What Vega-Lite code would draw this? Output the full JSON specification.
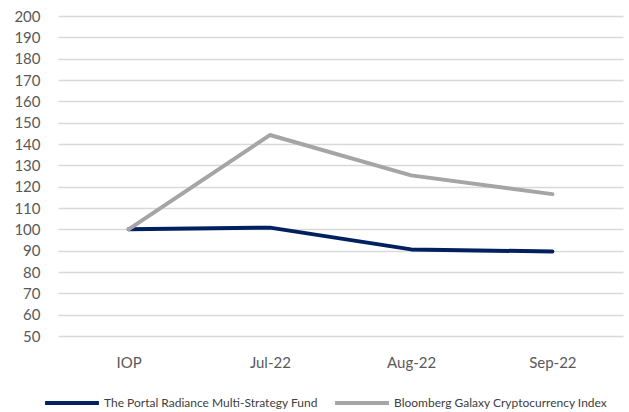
{
  "$schema": "https://vega.github.io/schema/vega-lite/v6.json",
  "width": 565,
  "height": 320,
  "autosize": {"type": "none"},
  "padding": {"left": 58, "top": 16, "right": 6, "bottom": 76},
  "background": "white",
  "data": {
    "values": [
      {"period": "IOP", "series": "The Portal Radiance Multi-Strategy Fund", "value": 100},
      {"period": "Jul-22", "series": "The Portal Radiance Multi-Strategy Fund", "value": 100.8},
      {"period": "Aug-22", "series": "The Portal Radiance Multi-Strategy Fund", "value": 90.6},
      {"period": "Sep-22", "series": "The Portal Radiance Multi-Strategy Fund", "value": 89.6},
      {"period": "IOP", "series": "Bloomberg Galaxy Cryptocurrency Index", "value": 100},
      {"period": "Jul-22", "series": "Bloomberg Galaxy Cryptocurrency Index", "value": 144.2},
      {"period": "Aug-22", "series": "Bloomberg Galaxy Cryptocurrency Index", "value": 125.3},
      {"period": "Sep-22", "series": "Bloomberg Galaxy Cryptocurrency Index", "value": 116.5}
    ]
  },
  "config": {
    "view": {"stroke": null},
    "font": "Lato"
  },
  "mark": {"type": "line", "strokeWidth": 4, "strokeCap": "round", "strokeJoin": "round"},
  "encoding": {
    "x": {
      "field": "period",
      "type": "ordinal",
      "sort": ["IOP", "Jul-22", "Aug-22", "Sep-22"],
      "scale": {"paddingInner": 0, "paddingOuter": 0.5},
      "axis": {
        "title": null,
        "labelAngle": 0,
        "labelFontSize": 15,
        "labelColor": "#595959",
        "labelPadding": 19,
        "ticks": false,
        "domain": false,
        "grid": false
      }
    },
    "y": {
      "field": "value",
      "type": "quantitative",
      "scale": {"domain": [50, 200], "nice": false, "zero": false},
      "axis": {
        "title": null,
        "values": [50, 60, 70, 80, 90, 100, 110, 120, 130, 140, 150, 160, 170, 180, 190, 200],
        "labelFontSize": 15,
        "labelColor": "#595959",
        "labelPadding": 18,
        "ticks": false,
        "domain": false,
        "gridColor": "#d9d9d9",
        "gridWidth": 1.5
      }
    },
    "color": {
      "field": "series",
      "type": "nominal",
      "scale": {
        "domain": ["The Portal Radiance Multi-Strategy Fund", "Bloomberg Galaxy Cryptocurrency Index"],
        "range": ["#002060", "#a5a5a5"]
      },
      "legend": {
        "title": null,
        "orient": "none",
        "direction": "horizontal",
        "legendX": -15,
        "legendY": 358,
        "symbolType": "stroke",
        "symbolSize": 2900,
        "symbolStrokeWidth": 4,
        "labelFontSize": 12,
        "labelColor": "#404040",
        "labelLimit": 400,
        "labelOffset": 3,
        "columnPadding": 9
      }
    }
  }
}
